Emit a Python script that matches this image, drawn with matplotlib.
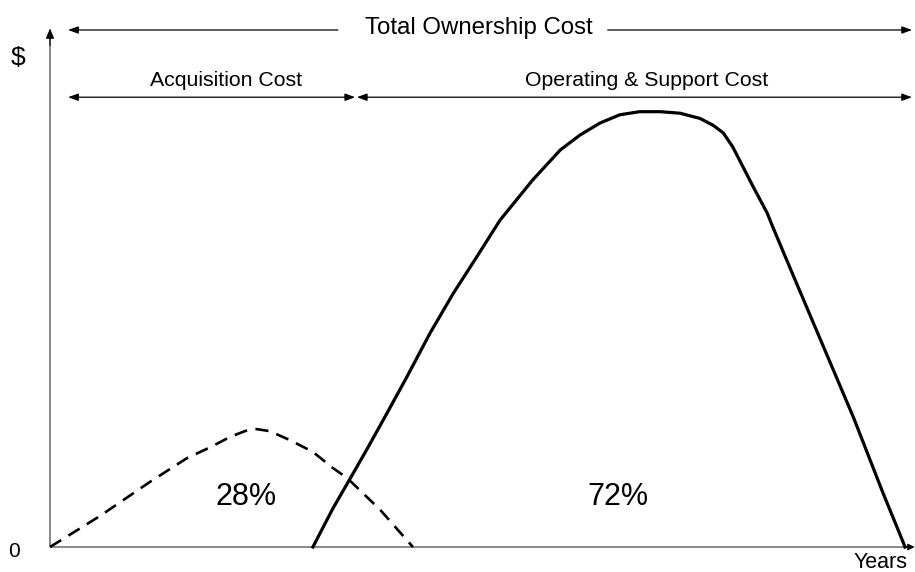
import matplotlib
matplotlib.use("Agg")
import matplotlib.pyplot as plt

plt.rcParams['font.family'] = ['Liberation Sans', 'DejaVu Sans']

# Acquisition cost curve (dashed)
acq_years = [0, 5.8, 11.6, 15.9, 18.6, 20.9, 22.9, 24.0, 25.5, 27.8, 30.5,
             32.8, 34.5, 38.3, 42.1]
acq_cost = [0, 6.0, 12.6, 17.2, 19.3, 21.3, 22.6, 22.8, 22.4, 20.7, 18.4,
            15.3, 13.3, 7.2, 0]

# Operating & support cost curve (solid)
ops_years = [30.5, 32.8, 34.6, 36.8, 39.1, 41.4, 44.1, 46.8, 49.5, 52.2, 56.0,
             59.2, 61.5, 63.8, 66.1, 68.4, 70.8, 73.1, 75.4, 76.9, 78.1, 79.2,
             80.4, 81.6, 83.2, 83.9, 86.2, 89.0, 93.2, 96.6, 99.2]
ops_cost = [0, 7.4, 12.6, 19.0, 25.9, 32.9, 41.4, 49.1, 56.1, 63.2, 71.0,
            76.8, 79.7, 82.0, 83.6, 84.2, 84.2, 83.9, 82.9, 81.6, 80.1, 77.4,
            73.5, 69.6, 64.6, 61.7, 52.6, 41.6, 25.1, 10.6, 0]

share_labels = ["28%", "72%"]
span_labels = ["Acquisition Cost", "Operating & Support Cost"]
total_label = "Total Ownership Cost"

fig = plt.figure(figsize=(9.15, 5.72), dpi=100)
ax = fig.add_axes([50/915, 25/572, 862/915, 517/572])
ax.set_xlim(0, 100)
ax.set_ylim(0, 100)
ax.axis('off')

# axes lines
gray = '#808080'
ax.plot([0, 100], [0, 0], color=gray, lw=1.3, clip_on=False, solid_capstyle='butt')
ax.plot([0, 0], [0, 99], color=gray, lw=1.3, clip_on=False, solid_capstyle='butt')
ax.annotate('', xy=(0, 100.3), xytext=(0, 97), annotation_clip=False,
            arrowprops=dict(arrowstyle='-|>,head_length=0.6,head_width=0.25',
                            color='black', lw=0.8, shrinkA=0, shrinkB=0, mutation_scale=10))
ax.annotate('', xy=(100.3, 0), xytext=(99, 0), annotation_clip=False,
            arrowprops=dict(arrowstyle='-|>,head_length=0.4,head_width=0.2',
                            color='black', lw=0.8, shrinkA=0, shrinkB=0, mutation_scale=10))

# curves
ax.plot(acq_years, acq_cost, color='black', lw=1.9, dashes=(5, 3.2), clip_on=False,
        dash_joinstyle='round')
ax.plot(ops_years, ops_cost, color='black', lw=2.3, clip_on=False,
        solid_joinstyle='round')

# span arrows
aprops = dict(color='black', lw=0.9, shrinkA=0, shrinkB=0, mutation_scale=10)
ax.annotate('', xy=(2.1, 100), xytext=(33.4, 100), annotation_clip=False,
            arrowprops=dict(arrowstyle='-|>,head_length=0.6,head_width=0.22', **aprops))
ax.annotate('', xy=(100, 100), xytext=(64.7, 100), annotation_clip=False,
            arrowprops=dict(arrowstyle='-|>,head_length=0.6,head_width=0.22', **aprops))
ax.annotate('', xy=(2.1, 87.0), xytext=(35.4, 87.0), annotation_clip=False,
            arrowprops=dict(arrowstyle='<|-|>,head_length=0.6,head_width=0.22', **aprops))
ax.annotate('', xy=(35.6, 87.0), xytext=(100, 87.0), annotation_clip=False,
            arrowprops=dict(arrowstyle='<|-|>,head_length=0.6,head_width=0.22', **aprops))

# texts
ax.text(49.8, 99.2, total_label, ha='center', va='baseline', fontsize=17.3, clip_on=False)
ax.text(20.4, 89.2, span_labels[0], ha='center', va='baseline', fontsize=15.3)
ax.text(69.2, 89.2, span_labels[1], ha='center', va='baseline', fontsize=15.3)
ax.text(22.7, 8.1, share_labels[0], ha='center', va='baseline', fontsize=22)
ax.text(65.9, 8.1, share_labels[1], ha='center', va='baseline', fontsize=22)
ax.text(-3.7, 93.2, '$', ha='center', va='baseline', fontsize=19, clip_on=False)
ax.text(-4.2, -1.9, '0', ha='center', va='baseline', fontsize=15, clip_on=False)
ax.text(96.3, -0.9, 'Years', ha='center', va='top', fontsize=15.5, clip_on=False)

fig.savefig('out.png', dpi=100, facecolor='white')
